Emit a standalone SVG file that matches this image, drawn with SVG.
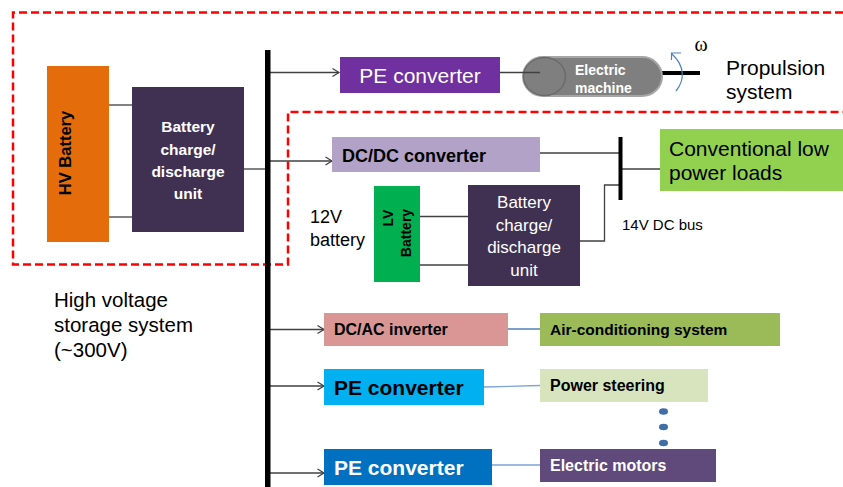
<svg xmlns="http://www.w3.org/2000/svg" width="843" height="487" viewBox="0 0 843 487">
<style>
text{font-family:"Liberation Sans",Arial,sans-serif}
.w{fill:#fff}
.b{font-weight:bold}
.c{stroke:#404040;stroke-width:1.3;fill:none}
.a{marker-end:url(#arr)}
.bl{stroke:#4F81BD;stroke-width:1.5;fill:none}
.lb{stroke:#7DA5D8;stroke-width:1.3;fill:none}
</style>
<defs>
<marker id="arr" markerWidth="9" markerHeight="10" refX="7.5" refY="5" orient="auto" markerUnits="userSpaceOnUse">
<path d="M1,1 L7.5,5 L1,9" fill="none" stroke="#404040" stroke-width="1.2"/>
</marker>
</defs>
<rect width="843" height="487" fill="#fff"/>

<path id="hv-region" d="M843,12.5 H13 V264.5 H288 V112 H843" fill="none" stroke="#FF0000" stroke-width="2.5" stroke-dasharray="8,4"/>

<g id="connectors">
<line class="c" x1="109" y1="105" x2="132" y2="105"/>
<line class="c" x1="109" y1="217" x2="132" y2="217"/>
<line class="c" x1="244" y1="169" x2="266" y2="169"/>
<line class="c a" x1="270" y1="72.5" x2="339" y2="72.5"/>
<line class="c a" x1="270" y1="161" x2="332" y2="161"/>
<line class="c" x1="540" y1="153" x2="619" y2="153"/>
<line class="c" x1="621" y1="169" x2="660" y2="169"/>
<line class="c" x1="420" y1="216.5" x2="468" y2="216.5"/>
<line class="c" x1="420" y1="265" x2="468" y2="265"/>
<polyline class="c" points="580,241 604.5,241 604.5,185 619,185"/>
<line class="c a" x1="270" y1="329.5" x2="324" y2="329.5"/>
<line class="bl" x1="508" y1="329" x2="540" y2="329"/>
<line class="c a" x1="270" y1="386" x2="324" y2="386"/>
<line class="lb" x1="484" y1="387" x2="540" y2="385.5"/>
<line class="c a" x1="270" y1="473" x2="324" y2="473"/>
<line class="lb" x1="492" y1="465" x2="540" y2="465"/>
</g>

<g id="hv-bus"><rect x="265" y="50" width="5.5" height="437" fill="#000"/></g>

<g id="hv-battery">
<rect x="47" y="66" width="62" height="176" fill="#E46C0A"/>
<text class="b" transform="translate(71,153) rotate(-90)" text-anchor="middle" font-size="16.5">HV Battery</text>
</g>

<g id="hv-charger">
<rect x="132" y="87" width="112" height="145" fill="#403152"/>
<text class="w b" x="188" y="132" font-size="15.5" text-anchor="middle">Battery</text>
<text class="w b" x="188" y="155" font-size="15.5" text-anchor="middle">charge/</text>
<text class="w b" x="188" y="177" font-size="15.5" text-anchor="middle">discharge</text>
<text class="w b" x="188" y="199" font-size="15.5" text-anchor="middle">unit</text>
</g>

<g id="pe-propulsion">
<rect x="340" y="57" width="160" height="36" fill="#7030A0"/>
<text class="w" x="420" y="83" font-size="21" text-anchor="middle">PE converter</text>
</g>

<g id="electric-machine">
<line x1="660" y1="73" x2="700" y2="73" stroke="#000" stroke-width="4"/>
<rect x="523" y="57" width="139" height="39" rx="20" ry="19.5" fill="#7F7F7F" stroke="#A6A6A6" stroke-width="2"/>
<ellipse cx="544.5" cy="76.5" rx="21" ry="19" fill="#7F7F7F" stroke="#6B6B6B" stroke-width="1.5"/>
<line x1="540" y1="72.5" x2="500" y2="72.5" stroke="#404040" stroke-width="1.3"/>
<text class="w b" x="575" y="75" font-size="14">Electric</text>
<text class="w b" x="575" y="93" font-size="14">machine</text>
</g>

<g id="rotation">
<path d="M671.5,60 V53 H681 M672,54 C685,66 685,80 676,91" fill="none" stroke="#4F81BD" stroke-width="1.2"/>
<text x="701" y="50.5" font-size="20" text-anchor="middle" style="font-family:'Liberation Serif','Times New Roman',serif">ω</text>
</g>

<g id="propulsion-label">
<text x="726" y="75" font-size="21">Propulsion</text>
<text x="726" y="99" font-size="21">system</text>
</g>

<g id="dcdc">
<rect x="332" y="137" width="208" height="35" fill="#B3A2C7"/>
<text class="b" x="342" y="162" font-size="18">DC/DC converter</text>
</g>

<g id="lv-bus"><rect x="618.5" y="137" width="4" height="63" fill="#000"/></g>
<g id="lv-bus-label"><text x="622" y="229.5" font-size="15">14V DC bus</text></g>

<g id="conventional-loads">
<rect x="660" y="129" width="183" height="62" fill="#92D050"/>
<text x="669" y="156" font-size="21">Conventional low</text>
<text x="669" y="180" font-size="21">power loads</text>
</g>

<g id="lv-battery-label">
<text x="310" y="223" font-size="18">12V</text>
<text x="310" y="246" font-size="18">battery</text>
</g>

<g id="lv-battery">
<rect x="374" y="186" width="46" height="96" fill="#00B050"/>
<text class="b" transform="translate(393,218) rotate(-90)" text-anchor="middle" font-size="14">LV</text>
<text class="b" transform="translate(411,233) rotate(-90)" text-anchor="middle" font-size="14">Battery</text>
</g>

<g id="lv-charger">
<rect x="468" y="185" width="112" height="101" fill="#403152"/>
<text class="w" x="524" y="207.5" font-size="17" text-anchor="middle">Battery</text>
<text class="w" x="524" y="231" font-size="17" text-anchor="middle">charge/</text>
<text class="w" x="524" y="253" font-size="17" text-anchor="middle">discharge</text>
<text class="w" x="524" y="275.5" font-size="17" text-anchor="middle">unit</text>
</g>

<g id="high-voltage-label">
<text x="54" y="306.5" font-size="20.5">High voltage</text>
<text x="54" y="332" font-size="20.5">storage system</text>
<text x="54" y="357" font-size="20.5">(~300V)</text>
</g>

<g id="dcac">
<rect x="324" y="313" width="184" height="33" fill="#D99694"/>
<text class="b" x="334" y="335" font-size="16">DC/AC inverter</text>
</g>
<g id="air-conditioning">
<rect x="540" y="313" width="240" height="33" fill="#9BBB59"/>
<text class="b" x="550" y="335" font-size="15.5">Air-conditioning system</text>
</g>

<g id="pe-steering">
<rect x="324" y="369" width="160" height="36" fill="#00B0F0"/>
<text class="b" x="334" y="395" font-size="21">PE converter</text>
</g>
<g id="power-steering">
<rect x="540" y="369" width="168" height="33" fill="#D7E4BD"/>
<text class="b" x="550" y="391" font-size="16">Power steering</text>
</g>

<g id="ellipsis" fill="#3F6EA8">
<ellipse cx="663.5" cy="411.5" rx="4.5" ry="3.3"/>
<ellipse cx="663.5" cy="427" rx="4.5" ry="3.3"/>
<ellipse cx="663.5" cy="443" rx="4.5" ry="3.3"/>
</g>

<g id="pe-motors">
<rect x="324" y="449" width="168" height="36" fill="#0070C0"/>
<text class="w b" x="334" y="475" font-size="21">PE converter</text>
</g>
<g id="electric-motors">
<rect x="540" y="449" width="176" height="33" fill="#604A7B"/>
<text class="w b" x="550" y="470.5" font-size="16">Electric motors</text>
</g>
</svg>
